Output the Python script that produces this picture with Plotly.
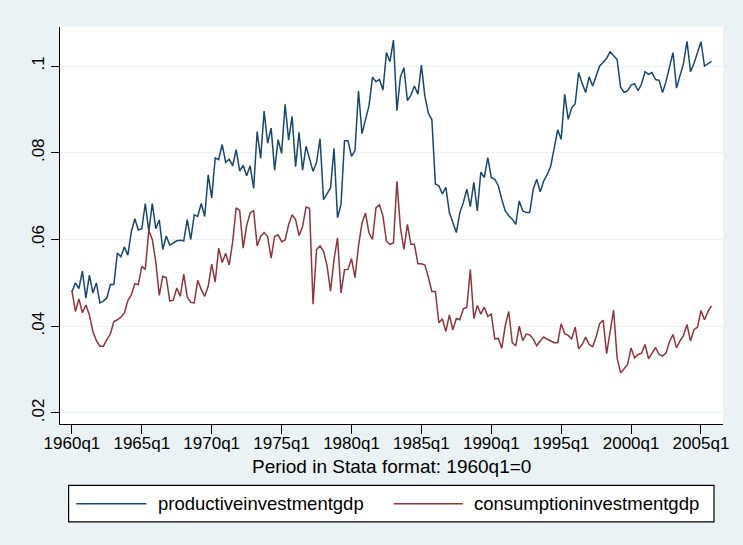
import plotly.graph_objects as go

# ---------------- data (quarterly, 1960q1 .. 2005q4; x = quarters since 1960q1) ----------------
productive = [
    .0479, .0500, .0487, .0527, .0465, .0518, .0477, .0500, .0454, .0458,
    .0465, .0496, .0496, .0569, .0560, .0583, .0564, .0618, .0648, .0622,
    .0625, .0683, .0619, .0683, .0625, .0645, .0577, .0608, .0587, .0592,
    .0597, .0598, .0597, .0646, .0600, .0657, .0653, .0683, .0653, .0749,
    .0696, .0788, .0784, .0819, .0778, .0785, .0770, .0807, .0758, .0771,
    .0747, .0770, .0718, .0849, .0787, .0896, .0822, .0857, .0760, .0830,
    .0799, .0912, .0829, .0884, .0768, .0847, .0760, .0815, .0788, .0757,
    .0778, .0832, .0692, .0707, .0719, .0810, .0650, .0681, .0828, .0828,
    .0792, .0805, .0943, .0844, .0876, .0908, .0974, .0964, .0969, .0945,
    .1031, .1010, .1060, .0897, .0975, .0996, .0920, .0933, .0954, .0935,
    .1002, .0930, .0891, .0876, .0728, .0724, .0705, .0720, .0662, .0638,
    .0616, .0662, .0685, .0716, .0676, .0732, .0666, .0755, .0743, .0789,
    .0743, .0739, .0724, .0693, .0666, .0655, .0647, .0635, .0689, .0666,
    .0662, .0662, .0716, .0739, .0710, .0735, .0750, .0769, .0807, .0853,
    .0831, .0935, .0877, .0903, .0913, .0985, .0960, .0939, .0975, .0954,
    .0977, .1000, .1008, .1018, .1033, .1025, .1015, .0951, .0939, .0943,
    .0956, .0959, .0943, .0959, .0987, .0981, .0985, .0969, .0967, .0939,
    .0964, .0998, .1031, .0949, .0975, .1006, .1057, .0987, .1006, .1029,
    .1056, .1000, .1005, .1011,
]
consumption = [
    .0482, .0434, .0463, .0431, .0449, .0426, .0388, .0367, .0354, .0354,
    .0369, .0382, .0411, .0415, .0421, .0430, .0459, .0472, .0498, .0496,
    .0538, .0531, .0621, .0600, .0548, .0471, .0515, .0512, .0458, .0460,
    .0488, .0469, .0520, .0467, .0455, .0454, .0506, .0485, .0469, .0492,
    .0543, .0502, .0580, .0547, .0568, .0541, .0595, .0673, .0667, .0580,
    .0632, .0661, .0667, .0585, .0607, .0616, .0607, .0557, .0607, .0611,
    .0595, .0599, .0634, .0657, .0646, .0609, .0630, .0675, .0672, .0451,
    .0577, .0585, .0573, .0540, .0481, .0554, .0604, .0477, .0530, .0531,
    .0556, .0512, .0585, .0638, .0661, .0615, .0600, .0673, .0680, .0654,
    .0596, .0589, .0592, .0734, .0627, .0577, .0635, .0589, .0589, .0544,
    .0544, .0541, .0513, .0480, .0480, .0408, .0417, .0388, .0426, .0392,
    .0418, .0415, .0440, .0444, .0531, .0418, .0448, .0428, .0444, .0423,
    .0428, .0371, .0372, .0349, .0402, .0434, .0362, .0355, .0400, .0367,
    .0382, .0380, .0371, .0355, .0366, .0375, .0370, .0366, .0362, .0362,
    .0406, .0383, .0379, .0371, .0398, .0348, .0358, .0375, .0358, .0353,
    .0375, .0406, .0414, .0337, .0392, .0437, .0327, .0293, .0302, .0312,
    .0350, .0327, .0335, .0338, .0358, .0325, .0338, .0351, .0335, .0331,
    .0338, .0365, .0381, .0350, .0366, .0379, .0404, .0366, .0392, .0398,
    .0436, .0415, .0434, .0447,
]
quarters = list(range(len(productive)))

tick_quarters = [0, 20, 40, 60, 80, 100, 120, 140, 160, 180]
tick_labels = ["1960q1", "1965q1", "1970q1", "1975q1", "1980q1",
               "1985q1", "1990q1", "1995q1", "2000q1", "2005q1"]
y_ticks = [0.02, 0.04, 0.06, 0.08, 0.10]
y_tick_labels = [".02", ".04", ".06", ".08", ".1"]
series_names = ["productiveinvestmentgdp", "consumptioninvestmentgdp"]
series_colors = ["#1a476f", "#90353b"]

# ---------------- geometry (pixels) ----------------
W, H = 743, 545
PL, PR, PT, PB = 60.4, 723.0, 27.0, 424.3
FONT = "Liberation Sans, Arial, sans-serif"
BG = "#eaf2f3"


def fx(px):
    return (px - PL) / (PR - PL)


def fy(py):
    return (PB - py) / (PB - PT)


fig = go.Figure()
for vals, name, col in zip([productive, consumption], series_names, series_colors):
    fig.add_trace(go.Scatter(x=quarters, y=vals, mode="lines", name=name,
                             line=dict(color=col, width=1.5), showlegend=False))

fig.update_layout(
    width=W, height=H,
    margin=dict(l=PL, r=W - PR, t=PT, b=H - PB, pad=0, autoexpand=False),
    paper_bgcolor=BG,
    plot_bgcolor="#ffffff",
    font=dict(family=FONT, color="#000000", size=17),
    xaxis=dict(
        range=[-3.41, 186.3], tickmode="array", tickvals=tick_quarters, ticktext=tick_labels,
        showgrid=False, zeroline=False, showline=True, linecolor="#000000", linewidth=1.2,
        ticks="outside", ticklen=9, tickwidth=1.2, tickcolor="#000000", automargin=False,
        ticklabelstandoff=-6,
        tickfont=dict(size=17, family=FONT, color="#000000"),
    ),
    yaxis=dict(
        range=[0.01746, 0.109], tickmode="array", tickvals=y_ticks, ticktext=y_tick_labels,
        showgrid=True, gridcolor=BG, gridwidth=1, zeroline=False,
        showline=True, linecolor="#000000", linewidth=1.2, automargin=False,
        ticks="outside", ticklen=8, tickwidth=1.2, tickcolor="#000000", tickangle=-90,
        tickfont=dict(size=17, family=FONT, color="#000000"),
    ),
)

# x-axis title
fig.add_annotation(text="Period in Stata format: 1960q1=0", xref="paper", yref="paper",
                   x=0.5, y=fy(467), xanchor="center", yanchor="middle", showarrow=False,
                   font=dict(size=19, family=FONT, color="#000000"))

# legend box (drawn in paper coords)
LX0, LX1, LY0, LY1 = 69.0, 714.0, 485.7, 522.3
fig.add_shape(type="rect", xref="paper", yref="paper", x0=fx(LX0), x1=fx(LX1),
              y0=fy(LY1), y1=fy(LY0), line=dict(color="#000000", width=1.2),
              fillcolor="#ffffff", layer="above")
ly = fy((LY0 + LY1) / 2)
for (sx0, sx1, tx), name, col in zip([(76.7, 146.7, 156.5), (394.0, 463.0, 472.5)],
                                      series_names, series_colors):
    fig.add_shape(type="line", xref="paper", yref="paper", x0=fx(sx0), x1=fx(sx1),
                  y0=ly, y1=ly, line=dict(color=col, width=1.5), layer="above")
    fig.add_annotation(text=name, xref="paper", yref="paper", x=fx(tx), y=ly,
                       xanchor="left", yanchor="middle", showarrow=False,
                       font=dict(size=18.5, family=FONT, color="#000000"))

fig.write_html(
    "out.html",
    config={"displayModeBar": False},
    post_script="document.body.style.margin='0px';document.body.style.backgroundColor='%s';" % BG,
)
